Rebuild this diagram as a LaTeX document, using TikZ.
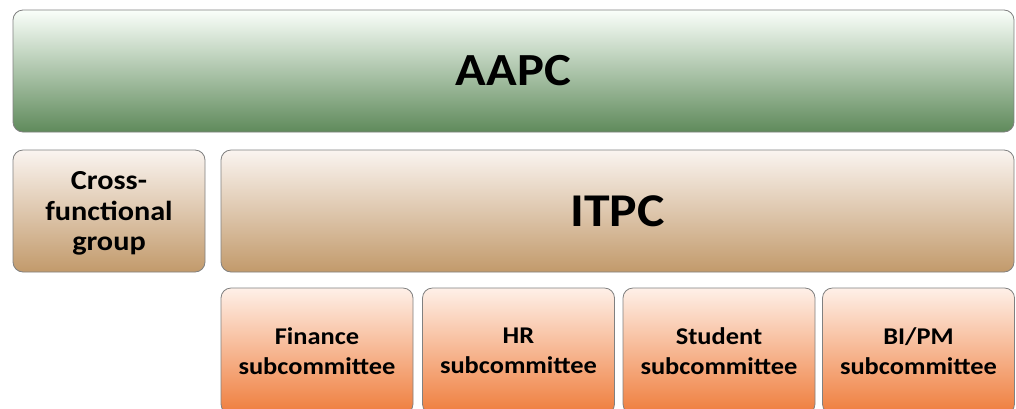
\documentclass[tikz,border=0pt]{standalone}
\usepackage{fontspec}
\setmainfont{Carlito}[FakeStretch=1.1]
\begin{document}
\begin{tikzpicture}[x=1pt,y=-1pt,
  box/.style={draw=black!50, line width=0.8pt, rounded corners=10pt, inner sep=0pt,
    align=center, text=black},
  greenbox/.style={box, top color=green!2!white, bottom color=greenbottom},
  tanbox/.style={box, top color=tantop, bottom color=tanbottom},
  orangebox/.style={box, top color=orangetop, bottom color=orangebottom,
    minimum width=192pt, minimum height=126pt,
    font=\fontsize{24}{29.5}\selectfont\bfseries},
  bigtext/.style={font=\fontsize{46}{52}\selectfont\bfseries},
]
\definecolor{greenbottom}{HTML}{5F8A5B}
\definecolor{tantop}{HTML}{FAF4F0}
\definecolor{tanbottom}{HTML}{C29A6B}
\definecolor{orangetop}{HTML}{FEF0E8}
\definecolor{orangebottom}{HTML}{EF7D3C}
\clip (0,0) rectangle (1016,408);
\useasboundingbox (0,0) rectangle (1016,408);
\fill[white] (0,0) rectangle (1016,408);

% top level
\node[greenbox, bigtext, minimum width=1001pt, minimum height=122pt] (aapc)
  at (513.5,71) {AAPC};

% second level
\node[tanbox, minimum width=192pt, minimum height=122pt] (cross) at (109,211) {};
\node[align=center, inner sep=0pt, font=\fontsize{27.5}{30.5}\selectfont\bfseries]
  (crosstext) at ([yshift=-2.5pt]cross.center) {Cross-\\functional\\group};
\node[tanbox, bigtext, minimum width=793pt, minimum height=122pt,
  font=\fontsize{47}{52}\selectfont\bfseries] (itpc)
  at (617.5,211) {ITPC};

% subcommittees
\node[orangebox] (fin) at (317,351) {Finance\\subcommittee};
\node[orangebox] (hr) at (518.5,351) {HR\\subcommittee};
\node[orangebox] (stu) at (719,351) {Student\\subcommittee};
\node[orangebox] (bipm) at (918.5,351) {BI/PM\\subcommittee};
\end{tikzpicture}
\end{document}
